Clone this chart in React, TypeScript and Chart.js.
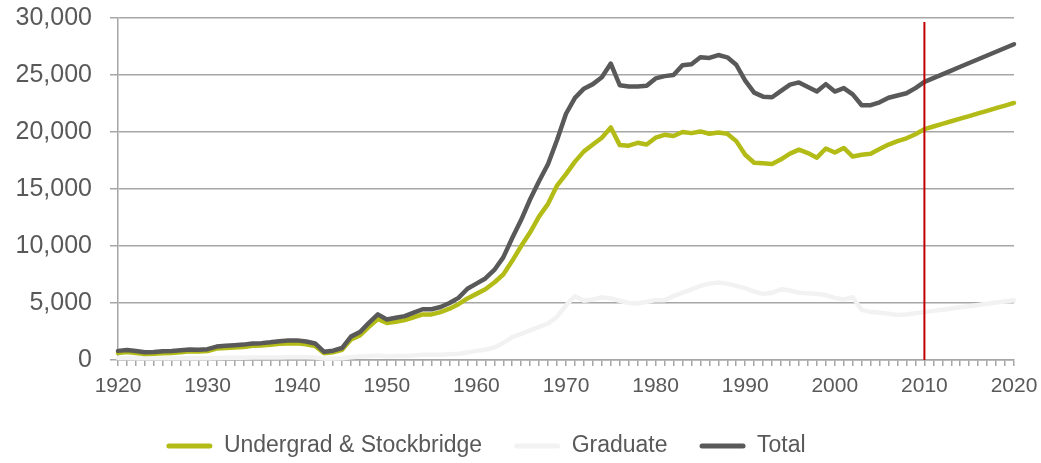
import React, { useEffect, useRef } from "react";
import { Chart, registerables } from "chart.js";

Chart.register(...registerables);

const YEARS = [
  1920, 1921, 1922, 1923, 1924, 1925, 1926, 1927, 1928, 1929,
  1930, 1931, 1932, 1933, 1934, 1935, 1936, 1937, 1938, 1939,
  1940, 1941, 1942, 1943, 1944, 1945, 1946, 1947, 1948, 1949,
  1950, 1951, 1952, 1953, 1954, 1955, 1956, 1957, 1958, 1959,
  1960, 1961, 1962, 1963, 1964, 1965, 1966, 1967, 1968, 1969,
  1970, 1971, 1972, 1973, 1974, 1975, 1976, 1977, 1978, 1979,
  1980, 1981, 1982, 1983, 1984, 1985, 1986, 1987, 1988, 1989,
  1990, 1991, 1992, 1993, 1994, 1995, 1996, 1997, 1998, 1999,
  2000, 2001, 2002, 2003, 2004, 2005, 2006, 2007, 2008, 2009,
  2010, 2011, 2012, 2013, 2014, 2015, 2016, 2017, 2018, 2019,
  2020,
];

const UNDERGRAD = [
  620, 700, 620, 530, 550, 600, 620, 690, 760, 740,
  790, 1000, 1060, 1100, 1150, 1240, 1270, 1330, 1420, 1450,
  1460, 1380, 1230, 600, 680, 900, 1800, 2150, 2900, 3600,
  3250, 3350, 3500, 3750, 4000, 4000, 4200, 4500, 4900, 5400,
  5800, 6200, 6800, 7500, 8700, 10000, 11200, 12600, 13700, 15300,
  16300, 17400, 18300, 18900, 19500, 20400, 18850, 18800, 19050, 18900,
  19500, 19750, 19650, 20000, 19900, 20050, 19850, 19950, 19850, 19200,
  18000, 17300, 17250, 17200, 17600, 18100, 18450, 18150, 17750, 18550,
  18200, 18600, 17850, 18000, 18100, 18500, 18900, 19200, 19450, 19800,
  20250, 20480, 20710, 20940, 21170, 21400, 21630, 21860, 22090, 22320,
  22550,
];

const GRADUATE = [
  180, 170, 160, 150, 150, 160, 160, 160, 160, 160,
  160, 180, 190, 200, 200, 210, 210, 220, 230, 250,
  260, 240, 220, 120, 140, 150, 250, 300, 350, 400,
  300, 350, 350, 400, 450, 450, 450, 500, 550, 650,
  800, 900, 1100, 1500, 2000, 2300, 2600, 2900, 3200, 3800,
  4800, 5600, 5200, 5300, 5500, 5400, 5200, 5000, 4950, 5100,
  5250, 5250, 5600, 5900, 6200, 6500, 6700, 6800, 6700, 6500,
  6300, 6000, 5800, 5900, 6200, 6100, 5900, 5850, 5800, 5700,
  5450, 5300, 5500, 4400, 4200, 4150, 4050, 3950, 4000, 4100,
  4200, 4310, 4410, 4520, 4620, 4720, 4830, 4930, 5040, 5140,
  5250,
];

const TOTAL = [
  800, 870, 780, 680, 700, 760, 780, 850, 920, 900,
  950, 1180, 1250, 1300, 1350, 1450, 1480, 1550, 1650, 1700,
  1720, 1620, 1450, 720, 820, 1050, 2050, 2450, 3250, 4000,
  3550, 3700, 3850, 4150, 4450, 4450, 4650, 5000, 5450, 6250,
  6700, 7150, 7900, 9000, 10700, 12300, 14100, 15700, 17200, 19300,
  21600, 23000, 23800, 24200, 24800, 26000, 24100, 24000, 24000, 24050,
  24700, 24900, 25000, 25850, 25950, 26550, 26500, 26750, 26550, 25900,
  24500, 23450, 23100, 23050, 23600, 24150, 24350, 23950, 23550, 24200,
  23550, 23850, 23300, 22350, 22350, 22600, 23000, 23200, 23400, 23850,
  24400, 24730, 25060, 25390, 25720, 26050, 26380, 26710, 27040, 27370,
  27700,
];

const SERIES_NAMES = ["Undergrad & Stockbridge", "Graduate", "Total"];
const X_LABEL_YEARS = [1920, 1930, 1940, 1950, 1960, 1970, 1980, 1990, 2000, 2010, 2020];
const Y_MIN = 0;
const Y_MAX = 30000;
const Y_STEP = 5000;
const MARKER_YEAR = 2010;
const MARKER_TOP = 29650;

const FONT = "'Liberation Sans', Arial, sans-serif";
const TEXT = "#595959";
const GRID = "#a6a6a6";

const toPoints = (vals: number[]) => vals.map((v, i) => ({ x: YEARS[i], y: v }));

export default function App() {
  const ref = useRef<HTMLCanvasElement | null>(null);

  useEffect(() => {
    if (!ref.current) return;
    const legendShift = {
      id: "legendShift",
      afterLayout(chart: any) {
        const l = chart.legend;
        if (l) {
          const target = 486;
          const cur = (l.left + l.right) / 2;
          l.left += target - cur;
          l.right += target - cur;
        }
      },
    };
    const lineStyle = (color: string, order: number) => ({
      borderColor: color,
      backgroundColor: color,
      borderWidth: 4.5,
      pointRadius: 0,
      tension: 0,
      borderJoinStyle: "round" as const,
      borderCapStyle: "round" as const,
      order,
      clip: 8,
    });
    const chart = new Chart(ref.current, {
      type: "line",
      data: {
        datasets: [
          { label: SERIES_NAMES[0], data: toPoints(UNDERGRAD), ...lineStyle("#b3bc17", 1) },
          { label: SERIES_NAMES[1], data: toPoints(GRADUATE), ...lineStyle("#f2f2f2", 2) },
          { label: SERIES_NAMES[2], data: toPoints(TOTAL), ...lineStyle("#595959", 0) },
          {
            label: "marker",
            data: [
              { x: MARKER_YEAR, y: Y_MIN },
              { x: MARKER_YEAR, y: MARKER_TOP },
            ],
            borderColor: "#c00000",
            backgroundColor: "#c00000",
            borderWidth: 2,
            pointRadius: 0,
            order: -1,
          },
        ],
      },
      options: {
        responsive: false,
        animation: false,
        events: [],
        layout: { padding: { top: 18, right: 27, left: 0, bottom: 0 } },
        scales: {
          x: {
            type: "linear",
            min: YEARS[0],
            max: YEARS[YEARS.length - 1],
            afterFit: (s: any) => {
              s.height = 42.5;
              s.paddingLeft = 0;
              s.paddingRight = 0;
            },
            grid: {
              drawOnChartArea: false,
              drawTicks: true,
              tickLength: 6,
              color: GRID,
              lineWidth: 1.5,
            },
            border: { display: true, color: GRID, width: 1.5 },
            ticks: {
              stepSize: 1,
              autoSkip: false,
              maxRotation: 0,
              minRotation: 0,
              padding: 8,
              color: TEXT,
              font: { family: FONT, size: 21 },
              callback: (v: any) => (X_LABEL_YEARS.includes(Number(v)) ? String(v) : ""),
            },
          },
          y: {
            min: Y_MIN,
            max: Y_MAX,
            afterFit: (s: any) => {
              s.width = 118;
              s.paddingTop = 0;
              s.paddingBottom = 0;
            },
            grid: {
              color: GRID,
              lineWidth: 1.5,
              tickLength: 8,
              drawTicks: true,
            },
            border: { display: true, color: GRID, width: 1.5 },
            ticks: {
              stepSize: Y_STEP,
              padding: 18,
              color: TEXT,
              font: { family: FONT, size: 25 },
              callback: (v: any) => Number(v).toLocaleString("en-US"),
            },
          },
        },
        plugins: {
          tooltip: { enabled: false },
          title: { display: false },
          legend: {
            position: "bottom",
            maxHeight: 60.5,
            labels: {
              color: TEXT,
              font: { family: FONT, size: 23 },
              boxWidth: 46,
              boxHeight: 5,
              padding: 32,
              useBorderRadius: true,
              borderRadius: 2.5,
              filter: (item: any) => item.datasetIndex !== 3,
              sort: (a: any, b: any) => a.datasetIndex - b.datasetIndex,
              generateLabels: (c: any) =>
                (Chart.defaults.plugins.legend.labels.generateLabels as any)(c).map((l: any) => ({
                  ...l,
                  lineWidth: 0,
                })),
            },
          },
        },
      },
      plugins: [legendShift],
    } as any);
    return () => chart.destroy();
  }, []);

  return (
    <div style={{ position: "fixed", left: 0, top: 0, width: 1041, height: 463, background: "#fff" }}>
      <canvas ref={ref} width={1041} height={463} style={{ width: 1041, height: 463, display: "block" }} />
    </div>
  );
}
